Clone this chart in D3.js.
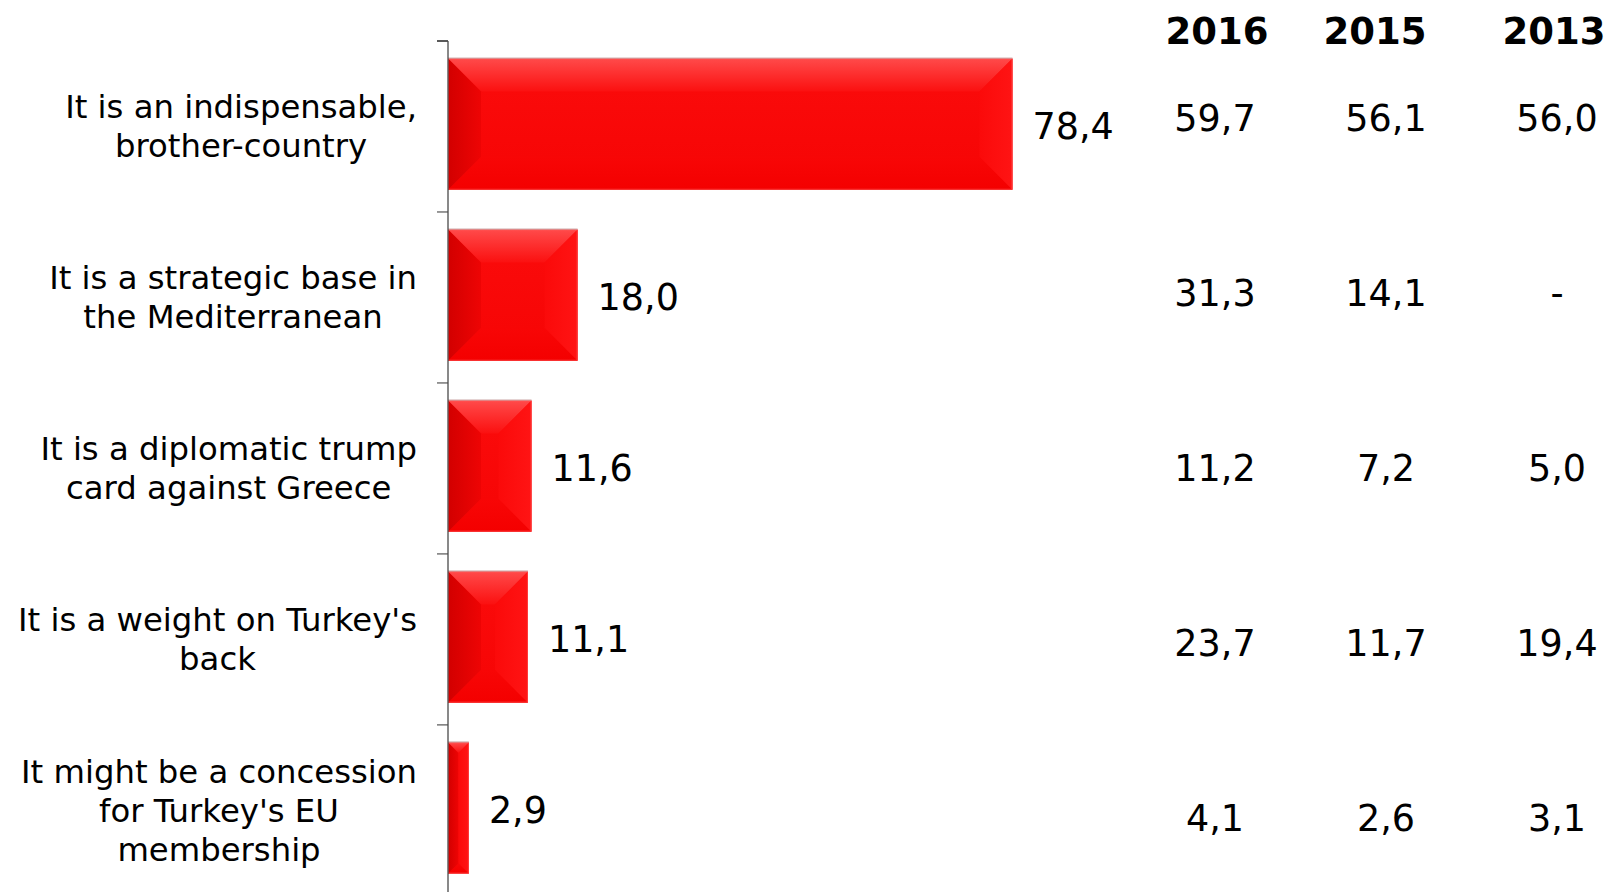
<!DOCTYPE html>
<html>
<head>
<meta charset="utf-8">
<script src="https://cdn.jsdelivr.net/npm/d3@7"></script>
<style>
  html, body { margin: 0; padding: 0; background: #fff; }
  svg { display: block; }
</style>
</head>
<body>
<svg id="chart" width="1610" height="892"></svg>
<script>
// ---- data ----
const categories = [
  "It is an indispensable,\nbrother-country",
  "It is a strategic base in\nthe Mediterranean",
  "It is a diplomatic trump\ncard against Greece",
  "It is a weight on Turkey's\nback",
  "It might be a concession\nfor Turkey's EU\nmembership"
];
const values2017 = [78.4, 18.0, 11.6, 11.1, 2.9];
const years = ["2016", "2015", "2013"];
const values2016 = [59.7, 31.3, 11.2, 23.7, 4.1];
const values2015 = [56.1, 14.1, 7.2, 11.7, 2.6];
const values2013 = [56.0, null, 5.0, 19.4, 3.1];
const tableValues = [values2016, values2015, values2013];

const fmt = v => v == null ? "-" : d3.format(".1f")(v).replace(".", ",");

const svg = d3.select("#chart");
const FONT = "'DejaVu Sans', Verdana, sans-serif";

const x = d3.scaleLinear().domain([0, 100]).range([448, 1168]);
const y = d3.scaleBand().domain(categories).range([41, 896])
  .paddingInner(0.233).paddingOuter(0.117).align(0.44);
const step = y.step();

// gradients
const defs = svg.append("defs");
function lin(id, x1, y1, x2, y2, stops) {
  const g = defs.append("linearGradient").attr("id", id)
    .attr("x1", x1).attr("y1", y1).attr("x2", x2).attr("y2", y2);
  stops.forEach(s => g.append("stop").attr("offset", s[0]).attr("stop-color", s[1]));
}
lin("gTop", 0, 0, 0, 1, [[0, "#ff4a4a"], [1, "#fb1010"]]);
lin("gLeft", 0, 0, 1, 0, [[0, "#d20000"], [1, "#ee0404"]]);
lin("gRight", 0, 0, 1, 0, [[0, "#fb0a0a"], [1, "#ff1414"]]);
lin("gBottom", 0, 0, 0, 1, [[0, "#f80606"], [1, "#f40000"]]);
lin("gCenter", 0, 0, 0, 1, [[0, "#fb0c0c"], [1, "#f60404"]]);

// ticks
const axisG = svg.append("g");
axisG.selectAll("line.tick")
  .data(d3.range(categories.length + 1))
  .join("line").attr("class", "tick")
  .attr("x1", x(0) - 11).attr("x2", x(0))
  .attr("y1", i => y.range()[0] + i * step)
  .attr("y2", i => y.range()[0] + i * step)
  .attr("stroke", (d, i) => i === 0 ? "#222" : "#777")
  .attr("stroke-width", 1.5);

// bars
const bars = svg.append("g").selectAll("g.bar")
  .data(categories.map((c, i) => ({ c, v: values2017[i] })))
  .join("g").attr("class", "bar");

bars.each(function(d) {
  const g = d3.select(this);
  const x0 = x(0), y0 = y(d.c), w = x(d.v) - x(0), h = y.bandwidth();
  const b = Math.min(33, w / 2, h / 2);
  const P = pts => pts.map(p => p.join(",")).join(" ");
  g.append("rect").attr("x", x0).attr("y", y0).attr("width", w).attr("height", h)
    .attr("fill", "url(#gCenter)");
  g.append("polygon").attr("points", P([[x0, y0], [x0 + w, y0], [x0 + w - b, y0 + b], [x0 + b, y0 + b]]))
    .attr("fill", "url(#gTop)");
  g.append("polygon").attr("points", P([[x0, y0 + h], [x0 + w, y0 + h], [x0 + w - b, y0 + h - b], [x0 + b, y0 + h - b]]))
    .attr("fill", "url(#gBottom)");
  g.append("polygon").attr("points", P([[x0, y0], [x0 + b, y0 + b], [x0 + b, y0 + h - b], [x0, y0 + h]]))
    .attr("fill", "url(#gLeft)");
  g.append("polygon").attr("points", P([[x0 + w, y0], [x0 + w - b, y0 + b], [x0 + w - b, y0 + h - b], [x0 + w, y0 + h]]))
    .attr("fill", "url(#gRight)");
  g.append("rect").attr("x", x0 + 0.5).attr("y", y0 + 0.5).attr("width", w - 1).attr("height", h - 1)
    .attr("fill", "none").attr("stroke", "#ff5a5a").attr("stroke-width", 1).attr("stroke-opacity", 0.6);
  g.append("line").attr("x1", x0).attr("x2", x0 + w).attr("y1", y0 - 0.5).attr("y2", y0 - 0.5)
    .attr("stroke", "#c8a0a0").attr("stroke-width", 1);
});
// axis line on top of bars
svg.append("line")
  .attr("x1", x(0)).attr("x2", x(0))
  .attr("y1", y.range()[0]).attr("y2", y.range()[1])
  .attr("stroke", "#4a4a4a").attr("stroke-width", 1.3);

// bar value labels
svg.append("g").selectAll("text")
  .data(categories.map((c, i) => ({ c, v: values2017[i] })))
  .join("text")
  .attr("x", d => x(d.v) + 20)
  .attr("y", d => y(d.c) + y.bandwidth() / 2 + 2)
  .attr("dy", "0.36em")
  .attr("font-family", FONT).attr("font-size", 36.5).attr("fill", "#000")
  .text(d => fmt(d.v));

// category labels: block right-aligned, lines centered within block
const catG = svg.append("g");
const lineH = 39;
categories.forEach(c => {
  const lines = c.split("\n");
  const t = catG.append("text")
    .attr("font-family", FONT).attr("font-size", 32.3).attr("fill", "#000")
    .attr("text-anchor", "middle");
  const spans = lines.map(l => t.append("tspan").text(l));
  const widths = spans.map(s => s.node().getComputedTextLength());
  const maxW = d3.max(widths);
  const cx = 417 - maxW / 2;
  const cy = y(c) + y.bandwidth() / 2 + 2;
  spans.forEach((s, i) => {
    s.attr("x", cx).attr("y", cy + (i - (lines.length - 1) / 2) * lineH).attr("dy", "0.36em");
  });
});

// table
const headerX = d3.scaleOrdinal().domain(years).range([1217, 1375, 1554]);
const colX = d3.scaleOrdinal().domain(years).range([1215, 1386, 1557]);
const rowY = d3.scalePoint().domain(categories).range([131, 831]);

svg.append("g").selectAll("text")
  .data(years).join("text")
  .attr("x", d => headerX(d))
  .attr("y", 44)
  .attr("text-anchor", "middle")
  .attr("font-family", FONT).attr("font-weight", "bold")
  .attr("font-size", 37).attr("fill", "#000")
  .text(d => d);

years.forEach((yr, j) => {
  svg.append("g").selectAll("text")
    .data(categories.map((c, i) => ({ c, v: tableValues[j][i] })))
    .join("text")
    .attr("x", colX(yr))
    .attr("y", d => rowY(d.c))
    .attr("text-anchor", "middle")
    .attr("font-family", FONT).attr("font-size", 36.5).attr("fill", "#000")
    .text(d => fmt(d.v));
});
</script>
</body>
</html>
